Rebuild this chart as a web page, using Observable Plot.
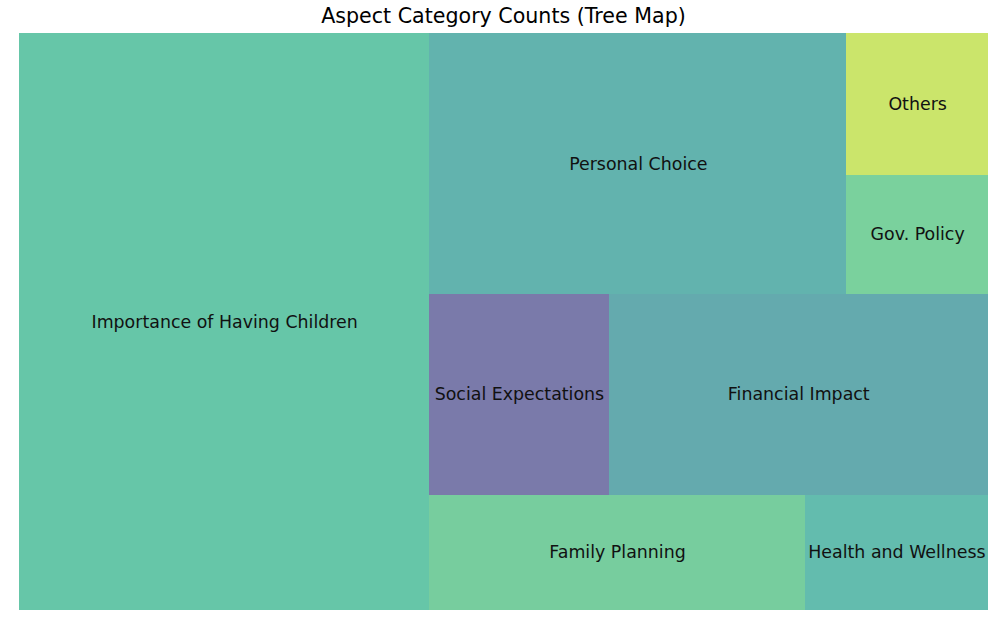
<!DOCTYPE html>
<html>
<head>
<meta charset="utf-8">
<script src="https://cdn.jsdelivr.net/npm/d3@7"></script>
<script src="https://cdn.jsdelivr.net/npm/@observablehq/plot@0.6"></script>
<style>
  html, body { margin: 0; padding: 0; background: #fff; }
  #title { width: 969px; margin-left: 19px; height: 33px; line-height: 32px; text-align: center;
           font-family: "DejaVu Sans", sans-serif; font-size: 20.6px; color: #000; }
  svg { display: block; }
</style>
</head>
<body>
<div id="title">Aspect Category Counts (Tree Map)</div>
<div id="chart"></div>
<script>
// Categories in the order given to the squarify layout
const categories = ["Importance of Having Children", "Family Planning", "Health and Wellness",
  "Social Expectations", "Financial Impact", "Personal Choice", "Gov. Policy", "Others"];
const counts = [224, 41, 20, 34, 72, 103, 16, 19];
const colors = ["#66c6a8", "#77cd9e", "#63bcae", "#7a7aaa", "#64aaae", "#62b3ae", "#7ad19d", "#cbe56b"];

// squarify algorithm (same as Python squarify) in a 100 x 100 space
function layoutRect(sizes, x, y, dx, dy) {
  const covered = d3.sum(sizes);
  const rects = [];
  if (dx >= dy) {
    const w = covered / dy;
    for (const s of sizes) { rects.push({x, y, dx: w, dy: s / w}); y += s / w; }
  } else {
    const h = covered / dx;
    for (const s of sizes) { rects.push({x, y, dx: s / h, dy: h}); x += s / h; }
  }
  return rects;
}
function leftover(sizes, x, y, dx, dy) {
  const covered = d3.sum(sizes);
  if (dx >= dy) { const w = covered / dy; return [x + w, y, dx - w, dy]; }
  const h = covered / dx; return [x, y + h, dx, dy - h];
}
function worst(sizes, x, y, dx, dy) {
  return d3.max(layoutRect(sizes, x, y, dx, dy), r => Math.max(r.dx / r.dy, r.dy / r.dx));
}
function squarify(sizes, x, y, dx, dy) {
  if (sizes.length === 0) return [];
  if (sizes.length === 1) return layoutRect(sizes, x, y, dx, dy);
  let i = 1;
  while (i < sizes.length && worst(sizes.slice(0, i), x, y, dx, dy) >= worst(sizes.slice(0, i + 1), x, y, dx, dy)) i++;
  const cur = sizes.slice(0, i), rem = sizes.slice(i);
  const [lx, ly, ldx, ldy] = leftover(cur, x, y, dx, dy);
  return layoutRect(cur, x, y, dx, dy).concat(squarify(rem, lx, ly, ldx, ldy));
}
const total = d3.sum(counts);
const norm = counts.map(c => c * 100 * 100 / total);
const rects = squarify(norm, 0, 0, 100, 100);
const data = categories.map((name, i) => ({
  name, count: counts[i], color: colors[i],
  x1: rects[i].x, x2: rects[i].x + rects[i].dx,
  y1: rects[i].y, y2: rects[i].y + rects[i].dy
}));

const chart = Plot.plot({
  width: 997,
  height: 589,
  marginTop: 0,
  marginBottom: 12,
  marginLeft: 19,
  marginRight: 9,
  x: {domain: [0, 100], axis: null},
  y: {domain: [0, 100], axis: null},
  style: {fontFamily: "DejaVu Sans, sans-serif", background: "#fff"},
  marks: [
    Plot.rect(data, {x1: "x1", x2: "x2", y1: "y1", y2: "y2", fill: "color", shapeRendering: "crispEdges",
      title: d => `${d.name}: ${d.count}`}),
    Plot.text(data, {x: d => (d.x1 + d.x2) / 2, y: d => (d.y1 + d.y2) / 2, text: "name",
      fill: "#111", fontSize: 17.4, textAnchor: "middle"})
  ]
});
document.getElementById("chart").appendChild(chart);
</script>
</body>
</html>
